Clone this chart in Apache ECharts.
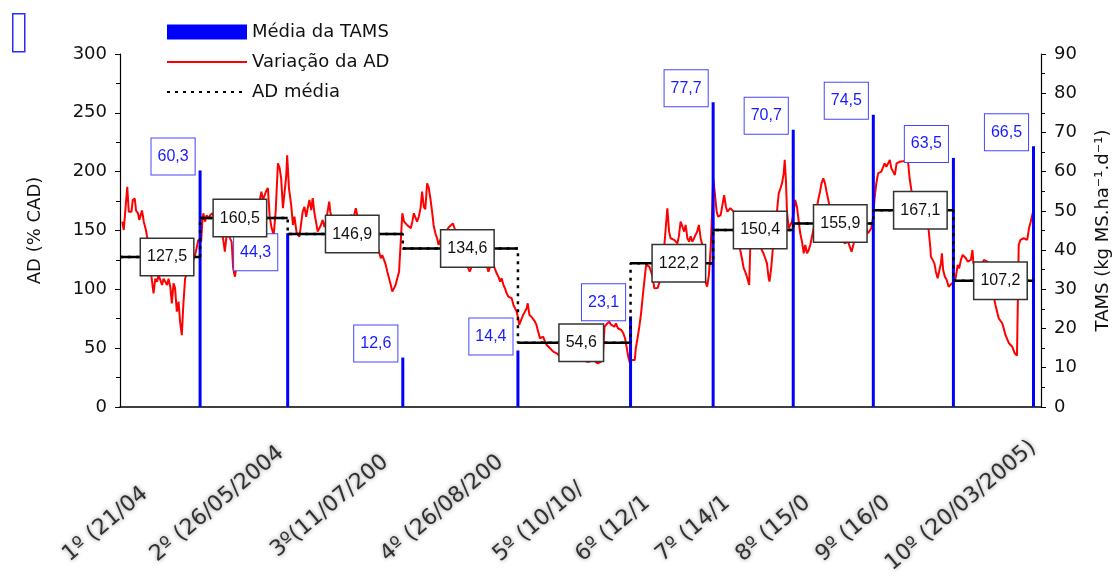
<!DOCTYPE html>
<html>
<head>
<meta charset="utf-8">
<script src="https://cdn.jsdelivr.net/npm/echarts@6/dist/echarts.min.js"></script>
<style>
  html, body { margin: 0; padding: 0; background: #fff; }
  #chart { width: 1120px; height: 577px; }
</style>
</head>
<body>
<div id="chart"></div>
<script>
// Start of the first grazing cycle (day 0 of the horizontal axis)
const startDate = '2004-03-20';
const axisEndDate = '2005-03-23';

// End date of each grazing cycle (where TAMS was measured)
const cycleDates = ['2004-04-21', '2004-05-26', '2004-07-11', '2004-08-26', '2004-10-10',
                    '2004-11-12', '2004-12-14', '2005-01-15', '2005-02-16', '2005-03-20'];

// Média da TAMS (kg MS.ha-1.d-1) per cycle
const tamsValues = [60.3, 44.3, 12.6, 14.4, 23.1, 77.7, 70.7, 74.5, 63.5, 66.5];

// AD média (% CAD) per cycle
const adMean = [127.5, 160.5, 146.9, 134.6, 54.6, 122.2, 150.4, 155.9, 167.1, 107.2];

// Cycle labels on the horizontal axis and how many characters of each remain visible
const tickLabels = ['1º (21/04/2004)', '2º (26/05/2004)', '3º(11/07/2004)', '4º (26/08/2004)',
                    '5º (10/10/2004)', '6º (12/11/2004)', '7º (14/12/2004)', '8º (15/01/2005)',
                    '9º (16/02/2005)', '10º (20/03/2005)'];
const tickVisibleChars = [9, 14, 12, 13, 10, 8, 8, 8, 8, 16];

// Variação da AD: days since startDate and AD (% CAD)
const adDays = [
  0.9, 1.5, 2.9, 3.5, 4.6, 5.1, 5.9, 6.4, 7.2, 7.7, 8.3, 8.8, 9.5, 10.4, 10.9, 11.7, 12.5, 13.4,
  14.1, 14.8, 15.4, 16.1, 16.8, 17.4, 18.1, 18.8, 19.4, 20.1, 20.7, 21.4, 22, 22.7, 23.4, 24,
  24.7, 25.3, 26, 26.7, 27.6, 28.7, 30, 31.3, 32.4, 32.9, 33.3, 34, 34.6, 35.3, 36, 36.9, 38,
  39, 40, 41.2, 41.9, 42.6, 43.6, 44.6, 45.2, 45.9, 47, 48, 49.5, 51, 52.5, 54, 55.5, 56.5,
  57.1, 58.5, 59.1, 59.8, 60.5, 61.4, 62.2, 63.1, 63.8, 64.4, 65.1, 65.8, 66.4, 66.8, 67.5,
  68.4, 69.1, 69.7, 70.6, 71.7, 72.4, 73, 73.7, 74.4, 75, 75.7, 76.4, 77, 77.7, 78.3, 79, 79.7,
  80.3, 81, 81.7, 82.3, 82.9, 83.6, 84, 85, 86, 87.5, 89, 90.5, 91.5, 92.3, 92.9, 93.5, 94.2,
  94.8, 96, 97.5, 99, 100.5, 102, 103.5, 104.2, 104.8, 105.5, 106.2, 106.8, 107.5, 108.2, 108.8,
  109.5, 110.1, 110.8, 111.5, 112.1, 112.8, 113.5, 114.1, 114.7, 115.4, 116.2, 116.8, 117.4,
  118, 118.7, 119.4, 120.1, 120.7, 121.4, 122, 122.7, 123.4, 124, 124.7, 125.3, 126, 126.7,
  127.3, 128, 128.6, 129.3, 130.5, 131.5, 133, 134, 135, 136, 137, 138.6, 139.7, 140.9, 142,
  143, 144, 145, 146, 147.2, 147.9, 148.5, 149.2, 149.9, 150.5, 151.2, 151.9, 152.5, 153.2,
  153.8, 154.5, 155.2, 155.8, 156.5, 157.2, 157.8, 158.5, 159.1, 159.5, 160, 161.1, 161.8,
  162.5, 162.9, 163.6, 164.4, 165.1, 165.8, 166.4, 167.1, 167.8, 168.4, 169.1, 169.8, 170.5,
  171.8, 173.1, 174.5, 175.8, 177, 178.5, 180, 181.5, 183, 184.5, 185.6, 186.5, 187.6, 189,
  190.9, 192.2, 192.9, 193.6, 194.2, 194.9, 195.4, 196.2, 197.5, 198.2, 198.9, 199.6, 200.3,
  201.1, 201.8, 202.5, 203.2, 203.8, 204.5, 205.1, 205.7, 206.1, 206.8, 207.5, 208.2, 208.8,
  209.2, 209.5, 210.2, 210.8, 211.5, 212.2, 212.8, 213.5, 214.2, 214.8, 215.5, 216.5, 217.6,
  218.7, 219.4, 220, 220.7, 221.4, 222, 222.7, 223.3, 224, 224.7, 225.4, 226, 226.7, 227.4,
  228, 228.7, 229.3, 229.9, 230.6, 231.3, 232, 232.7, 233.3, 233.9, 234.6, 235.3, 236, 236.6,
  237, 237.6, 238.4, 239, 240, 240.7, 241.4, 242.1, 242.7, 243.3, 243.9, 244.5, 245.2, 245.8,
  246.8, 247.8, 248.5, 249.2, 249.8, 250.5, 251.4, 251.8, 252.8, 253.8, 254.8, 255.6, 256.4,
  257.1, 257.8, 258.5, 259.1, 259.5, 260.2, 260.8, 261.7, 262.5, 263.2, 263.9, 264.5, 265.2,
  265.6, 266.1, 266.5, 267.2, 267.9, 268.5, 269.2, 269.8, 270.5, 271.2, 271.8, 272.5, 273.2,
  273.8, 274.5, 275.2, 275.8, 277, 278, 279, 279.7, 280.3, 281, 281.7, 282.3, 283, 284, 285,
  286, 287, 288.3, 289.6, 290.9, 291.6, 292.3, 293, 293.6, 294.5, 295.5, 296.5, 297.5, 298.2,
  298.9, 299.5, 300.2, 300.9, 301.5, 302.2, 302.9, 303.6, 304.2, 304.9, 305.5, 306.2, 306.9,
  307.6, 308.2, 308.9, 309.6, 310.3, 311, 311.6, 312.3, 313.5, 314.8, 315.5, 316.2, 317, 318,
  319, 320, 320.7, 321.5, 322.3, 323.1, 323.8, 324, 324.7, 325.4, 326, 326.7, 327.4, 328,
  328.4, 328.9, 329.6, 330.3, 331.1, 331.7, 332.4, 333.3, 334, 334.7, 335.3, 336, 336.7, 337.3,
  338, 338.7, 339.3, 340, 340.6, 341, 342, 343, 344, 345.2, 345.9, 346.6, 347.6, 348.7, 349.8,
  351.1, 352.5, 353.1, 353.8, 355.2, 356.5, 357.5, 358.4, 359.1, 359.8, 361.1, 361.8, 362.5,
  363.2, 363.9, 365
];
const adValues = [
  157.5, 150.4, 187.2, 166, 166, 176, 177, 167, 164.6, 159, 157.5, 167, 157.5, 150, 143, 128, 112, 96.6,
  109, 106.5, 112, 108, 103.7, 109, 106.5, 103.7, 109, 102, 88, 105, 101, 81, 89.5, 72.5,
  61, 86.7, 109, 113.6, 118, 120.7, 129, 142, 140.5, 157.5, 164.6, 157.5, 163, 160, 163, 164.6, 158,
  150, 155, 143, 132, 146, 145, 140.5, 118, 110.7, 125, 138, 146, 142, 152, 160, 172, 183,
  176, 184, 186, 162, 153, 146, 166, 207, 203, 194, 169, 167.5, 195.7, 214, 186,
  171.7, 154.7, 161.7, 147.6, 144.7, 143.4, 166, 170, 161.7, 169, 176, 167.4, 177.4, 164.6, 157.5, 149, 147.6,
  154.7, 159, 153, 157.5, 159, 174.5, 166, 158, 150, 146, 152, 158, 161, 163, 164.6, 162, 169,
  163, 156, 150, 146, 148, 140, 132, 126.4, 129, 125, 120.7, 115, 109.4, 103.7, 98,
  101, 103.7, 109.4, 115, 137.7, 164.6, 157.5, 159, 154.7, 156, 151.9, 157.5, 164.6,
  163, 157.5, 161.7, 169, 183, 170, 168, 190, 186, 177.4, 166, 154.7, 147.6, 143.4,
  137.7, 142, 146, 148, 150, 153, 156, 150, 142, 133, 126, 120.7, 115, 121, 130,
  134, 128, 131, 124, 115, 119, 117.8, 120.7, 117, 113.6, 110.7, 106.5, 109.4, 103.7,
  100.9, 96.6, 93.7, 95.2, 92.4, 86.7, 88.1, 81, 75.4, 69.7, 72.5, 78.2, 81,
  83.9, 88.1, 78.2, 76.7, 78.2, 72.5, 69.7, 64, 58.4, 58.4, 59.7, 55.5, 52.7,
  49.9, 47, 45.6, 42.8, 44, 41.4, 42.5, 40, 41.4, 39, 40, 38.5, 38.5, 40,
  37, 38.5, 41.4, 68, 69.7, 68.2, 72.5, 70, 68.2, 71, 66.9, 65.4, 65.4,
  62.6, 58.4, 49.9, 41.4, 37, 40, 41.4, 40, 49.9, 58.4, 68.2, 79.6, 92.4,
  100.9, 106.5, 120.7, 122, 119.2, 115, 110.7, 100.9, 99.4, 101, 99.4, 112, 140,
  168.9, 149, 143.4, 145, 142, 140.5, 139, 145, 157.5, 159, 149, 154.7, 143.4, 140.5,
  145, 140.5, 143, 146, 149, 154.7, 143.4, 137.7, 120, 106.5, 102.2, 112, 134.9, 166,
  194.4, 183, 166, 161.7, 163, 161.7, 180, 170, 166, 167.4, 169, 169, 166, 163,
  150, 133.4, 126.4, 118, 115, 110.7, 103.7, 133.4, 145, 155, 150, 142, 133.4,
  130.6, 126.4, 122, 110.7, 106.5, 118, 133.4, 150, 166, 181.6, 185.9, 190, 198.6,
  210, 191.5, 166, 151.9, 150.4, 157.5, 166, 176, 170, 157.5, 147.6, 140.5, 130.6,
  137.7, 130.6, 133.4, 137.7, 150, 165, 176, 183, 190, 194.4, 190, 183, 176, 165, 155,
  146, 140.5, 142, 139, 140.5, 136.2, 132, 137.7, 142, 148, 152, 150, 156, 151.9,
  147.6, 146, 151.9, 160.4, 177.4, 190, 198.6, 198.6, 200, 201.4, 207, 204.2, 207,
  210, 202.8, 200, 197.2, 207, 206, 208.5, 210, 209, 210, 194.4, 184.4, 175, 170,
  173, 178, 182, 174, 162, 150.4, 134.9, 127.7, 125, 122, 115, 109.4, 108, 122,
  130.6, 116.4, 110.7, 108, 102.2, 102.2, 105, 106.5, 110.7, 120.7, 117.8, 125, 129.2, 127.7,
  126.4, 123.5, 125, 125, 133.4, 122, 118, 115, 120, 125, 126.4, 123.5, 112, 98, 86.7,
  75.4, 71.1, 66.9, 61.2, 54.1, 51.2, 45.6, 43.6, 137.7, 142, 143.4, 144.7, 142,
  151.9, 157.5, 167.4
];

const DAY_MS = 86400000;
function toUTC(s) {
  const p = s.split('-').map(Number);
  return Date.UTC(p[0], p[1] - 1, p[2]);
}
function dayOf(s) { return Math.round((toUTC(s) - toUTC(startDate)) / DAY_MS); }
function comma(v) { return String(v).replace('.', ','); }

const cycleDays = cycleDates.map(dayOf);
const axisMax = dayOf(axisEndDate);

const NUM_FONT = 'DejaVu Sans';
const BOX_FONT = 'Liberation Sans';

// TAMS bars with value boxes (the second box sits below the bar top)
const tamsData = tamsValues.map((v, i) => ({
  value: [cycleDays[i], v],
  label: { offset: i === 1 ? [-32, 37] : [-27, 4] }
}));

// AD line
const adData = adDays.map((d, i) => [d, adValues[i]]);

// AD média as a step path (dotted connectors) and solid plateaus
const stepData = [];
const plateauData = [];
const meanLabelData = [];
adMean.forEach((v, i) => {
  const from = i === 0 ? 0 : cycleDays[i - 1];
  const to = cycleDays[i];
  stepData.push([from, v], [to, v]);
  if (i > 0) plateauData.push([from, '-']);
  plateauData.push([from, v], [to, v]);
  meanLabelData.push({
    value: [(from + to) / 2, v],
    label: { offset: i === 1 ? [-4, 0] : [7, 0] }
  });
});

const noMarker = { color: 'rgba(0,0,0,0)', borderWidth: 0 };

const chart = echarts.init(document.getElementById('chart'), null, { renderer: 'canvas' });

chart.setOption({
  animation: false,
  backgroundColor: '#ffffff',
  grid: { left: 120, right: 75, top: 54, bottom: 170, containLabel: false },
  legend: {
    orient: 'vertical',
    left: 161,
    top: 18,
    itemWidth: 80,
    itemHeight: 15,
    itemGap: 12,
    textStyle: { fontFamily: NUM_FONT, fontSize: 18, color: '#111' },
    data: [
      { name: 'Média da TAMS', icon: 'rect' },
      { name: 'Variação da AD', itemStyle: noMarker },
      { name: 'AD média', itemStyle: noMarker }
    ]
  },
  graphic: [{
    type: 'rect',
    left: 12, top: 13,
    shape: { width: 12, height: 38 },
    style: { fill: '#ffffff', stroke: '#2a2aff', lineWidth: 1.5 }
  }],
  xAxis: {
    type: 'value',
    min: 0,
    max: axisMax,
    splitLine: { show: false },
    axisLine: { show: true, onZero: false, lineStyle: { color: '#000', width: 1.5 } },
    axisTick: { show: false },
    axisLabel: {
      customValues: cycleDays,
      rotate: 40,
      margin: 38,
      formatter: function (val) {
        const i = cycleDays.indexOf(val);
        if (i < 0) return '';
        const full = tickLabels[i];
        const shown = full.slice(0, tickVisibleChars[i]);
        const rest = full.slice(tickVisibleChars[i]);
        return rest ? '{v|' + shown + '}{h|' + rest + '}' : '{v|' + shown + '}';
      },
      rich: {
        v: {
          fontFamily: NUM_FONT, fontSize: 22, color: '#303030',
          textShadowColor: 'rgba(0,0,0,0.45)', textShadowBlur: 4
        },
        h: {
          fontFamily: NUM_FONT, fontSize: 22, color: 'rgba(0,0,0,0)',
          textShadowColor: 'rgba(0,0,0,0)', textShadowBlur: 0
        }
      }
    }
  },
  yAxis: [{
    type: 'value',
    position: 'left',
    min: 0, max: 300, interval: 50,
    name: 'AD (% CAD)',
    nameLocation: 'middle',
    nameGap: 76,
    nameTextStyle: { fontFamily: NUM_FONT, fontSize: 18, color: '#111' },
    splitLine: { show: false },
    axisLine: { show: true, lineStyle: { color: '#000', width: 1.2 } },
    axisTick: { show: true, length: 5, lineStyle: { color: '#000' } },
    minorTick: { show: true, splitNumber: 2, length: 4, lineStyle: { color: '#000' } },
    axisLabel: { fontFamily: NUM_FONT, fontSize: 18, color: '#111', margin: 13 }
  }, {
    type: 'value',
    position: 'right',
    min: 0, max: 90, interval: 10,
    name: 'TAMS (kg MS.ha⁻¹.d⁻¹)',
    nameLocation: 'middle',
    nameGap: 53,
    nameRotate: 90,
    nameTextStyle: { fontFamily: NUM_FONT, fontSize: 18, color: '#111' },
    splitLine: { show: false },
    axisLine: { show: true, lineStyle: { color: '#000', width: 1.2 } },
    axisTick: { show: true, length: 5, lineStyle: { color: '#000' } },
    minorTick: { show: true, splitNumber: 2, length: 4, lineStyle: { color: '#000' } },
    axisLabel: { fontFamily: NUM_FONT, fontSize: 18, color: '#111', margin: 13 }
  }],
  series: [
    {
      name: 'Variação da AD',
      type: 'line',
      data: adData,
      yAxisIndex: 0,
      symbol: 'none',
      z: 2,
      lineStyle: { color: '#ff0000', width: 2 },
      itemStyle: { color: '#ff0000' }
    },
    {
      name: 'Média da TAMS',
      type: 'bar',
      data: tamsData,
      yAxisIndex: 1,
      barWidth: 3,
      z: 3,
      itemStyle: { color: '#0000ff' },
      label: {
        show: true,
        position: 'top',
        distance: 0,
        formatter: p => comma(p.value[1]),
        fontFamily: BOX_FONT,
        fontSize: 16,
        color: '#1a1aff',
        backgroundColor: '#ffffff',
        borderColor: '#4646ff',
        borderWidth: 1,
        padding: [10, 6, 10, 6]
      }
    },
    {
      name: 'AD média',
      type: 'line',
      data: stepData,
      yAxisIndex: 0,
      symbol: 'none',
      z: 4,
      lineStyle: { color: '#000', width: 2.5, type: [3, 5] },
      itemStyle: { color: '#000' }
    },
    {
      name: 'plateaus',
      type: 'line',
      data: plateauData,
      yAxisIndex: 0,
      symbol: 'none',
      connectNulls: false,
      z: 4,
      lineStyle: { color: '#000', width: 2.5 },
      itemStyle: { color: '#000' },
      silent: true
    },
    {
      name: 'mean labels',
      type: 'scatter',
      data: meanLabelData,
      yAxisIndex: 0,
      symbolSize: 1,
      z: 6,
      silent: true,
      itemStyle: { color: 'rgba(0,0,0,0)', opacity: 1 },
      label: {
        show: true,
        position: 'inside',
        formatter: p => comma(p.value[1]),
        fontFamily: BOX_FONT,
        fontSize: 16,
        color: '#111',
        opacity: 1,
        backgroundColor: '#ffffff',
        borderColor: '#333333',
        borderWidth: 1.5,
        padding: [10, 6, 10, 6]
      }
    }
  ]
});
</script>
</body>
</html>
